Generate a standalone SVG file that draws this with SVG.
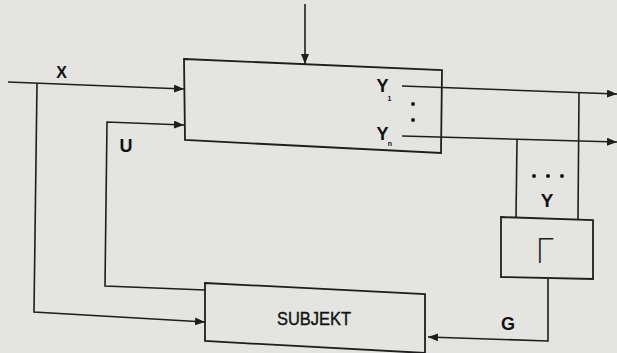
<svg xmlns="http://www.w3.org/2000/svg" width="617" height="353" viewBox="0 0 617 353">
<defs>
<marker id="arr" viewBox="0 0 10 8" refX="10" refY="4" markerWidth="10" markerHeight="8" markerUnits="userSpaceOnUse" orient="auto">
<path d="M0,0 L10,4 L0,8 Z" fill="#1e1e1e"/>
</marker>
<style>
.ln{fill:none;stroke:#1e1e1e;stroke-width:1.6;stroke-linejoin:miter}
.bx{fill:none;stroke:#1e1e1e;stroke-width:1.8}
.lb{font-family:"Liberation Sans",Arial,sans-serif;font-weight:bold;fill:#111;text-anchor:middle}
.dot{fill:#111}
</style>
</defs>
<rect x="0" y="0" width="617" height="353" fill="#e4e4e1"/>
<g id="connectors">
<line class="ln" x1="305" y1="4" x2="305" y2="64" marker-end="url(#arr)"/>
<polyline class="ln" points="8,82 184,89" marker-end="url(#arr)"/>
<polyline class="ln" points="37,83 34,312 205,322" marker-end="url(#arr)"/>
<polyline class="ln" points="205,290 105,286 107,122 184,125" marker-end="url(#arr)"/>
<polyline class="ln" points="402,86 617,94" marker-end="url(#arr)"/>
<polyline class="ln" points="402,136 617,142" marker-end="url(#arr)"/>
<polyline class="ln" points="579,93 578,219"/>
<polyline class="ln" points="517,140 516,218"/>
<polyline class="ln" points="548,279 548,341 428,337" marker-end="url(#arr)"/>
</g>
<g id="main-box">
<polygon class="bx" points="184,59 442,70 441,153 185,140"/>
<text class="lb" x="382.5" y="92" font-size="18">Y</text>
<text class="lb" x="389.5" y="101" font-size="7">1</text>
<text class="lb" x="382.5" y="140" font-size="18">Y</text>
<text class="lb" x="390" y="146" font-size="7">n</text>
<circle class="dot" cx="413" cy="104" r="2"/>
<circle class="dot" cx="413" cy="120" r="2"/>
</g>
<g id="subjekt">
<polygon class="bx" points="205,283 425,294 425,353 205,341"/>
<text x="277" y="325" font-family="Liberation Sans,Arial,sans-serif" font-size="19" fill="#111" stroke="#111" stroke-width="0.4" textLength="74" lengthAdjust="spacingAndGlyphs">SUBJEKT</text>
</g>
<g id="gamma-box">
<polygon class="bx" points="501,217 593,220 593,279 501,277"/>
<text x="535" y="263" font-family="DejaVu Sans,sans-serif" font-size="33" font-weight="200" fill="#1e1e1e">Γ</text>
</g>
<g id="labels">
<text class="lb" x="61.5" y="77.5" font-size="16">X</text>
<text class="lb" x="126" y="152" font-size="18">U</text>
<text class="lb" x="508" y="330" font-size="18">G</text>
<text class="lb" x="547" y="207" font-size="19">Y</text>
<circle class="dot" cx="534" cy="176" r="2"/>
<circle class="dot" cx="548" cy="176" r="2"/>
<circle class="dot" cx="562" cy="176" r="2"/>
</g>
</svg>
